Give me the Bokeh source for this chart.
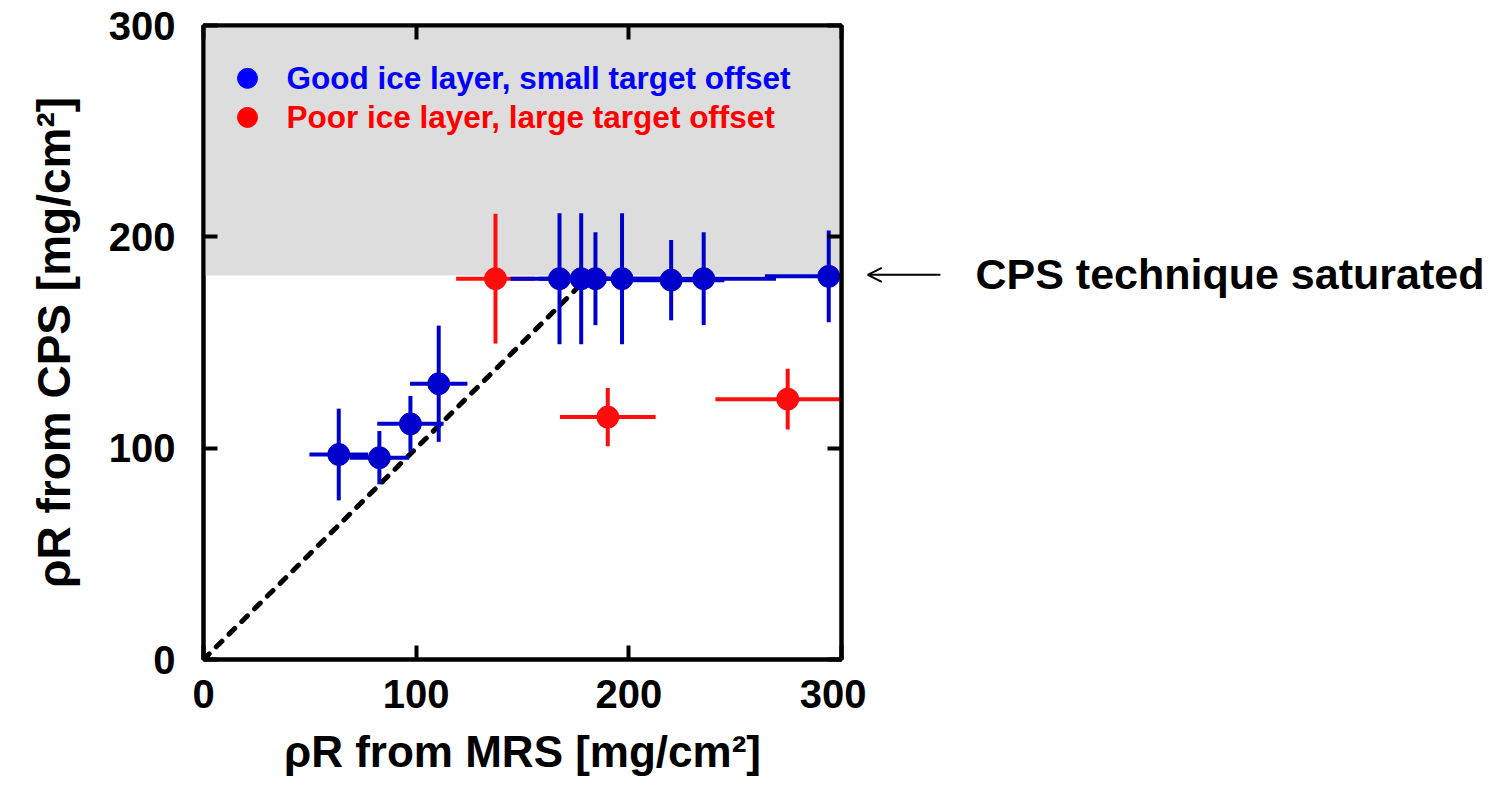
from bokeh.plotting import figure
from bokeh.layouts import row
from bokeh.models import Range1d, LinearAxis, Label, Arrow, OpenHead, FixedTicker
from bokeh.embed import file_html
from bokeh.resources import INLINE

# ---- data ----
blue_x = [63.6, 82.7, 97.3, 110.6, 167.4, 177.6, 184.3, 196.8, 219.9, 235.2, 294.0]
blue_y = [97.0, 95.5, 111.5, 130.5, 180.2, 180.2, 180.2, 180.2, 179.5, 180.2, 181.3]
blue_xerr = [13.8, 14.0, 15.6, 13.5, 23.0, 20.0, 18.0, 22.0, 25.0, 34.0, 30.0]
blue_yerr = [21.7, 12.6, 13.2, 27.5, 31.0, 31.0, 22.0, 31.0, 19.0, 22.0, 21.7]

red_x = [137.3, 190.1, 274.7]
red_y = [180.2, 114.7, 123.2]
red_xerr = [18.5, 22.5, 34.0]
red_yerr = [30.7, 13.8, 14.4]

saturation_level = 181.7
identity_line = [0, 176]
ticks = [0, 100, 200, 300]

legend_labels = ["Good ice layer, small target offset", "Poor ice layer, large target offset"]
annotation_text = "CPS technique saturated"

FONT = "Liberation Sans"
BLUE = "#0000cc"
RED = "#ff0c0c"

MAIN_W = 866
p = figure(width=MAIN_W, height=798, output_backend="svg", toolbar_location=None,
           x_range=Range1d(0, 300), y_range=Range1d(0, 300),
           min_border_left=203, min_border_right=MAIN_W - 841, min_border_top=25, min_border_bottom=139)
p.background_fill_color = "white"
p.border_fill_color = "white"
p.grid.visible = False
p.outline_line_color = "black"
p.outline_line_width = 4

# saturated region
p.quad(left=[0], right=[300], bottom=[saturation_level], top=[300],
       fill_color="#dcdddc", line_color=None)

# identity line
p.line(identity_line, identity_line, line_color="black", line_width=5,
       line_dash="8 10", line_cap="round")

def errbars(xs, ys, xe, ye, color):
    p.segment(x0=[x - e for x, e in zip(xs, xe)], x1=[x + e for x, e in zip(xs, xe)],
              y0=ys, y1=ys, line_color=color, line_width=4)
    p.segment(x0=xs, x1=xs, y0=[y - e for y, e in zip(ys, ye)],
              y1=[y + e for y, e in zip(ys, ye)], line_color=color, line_width=4)
    p.scatter(xs, ys, size=22, fill_color=color, line_color=color)

errbars(red_x, red_y, red_xerr, red_yerr, RED)
errbars(blue_x, blue_y, blue_xerr, blue_yerr, BLUE)

# legend (manual)
legend_colors = ["#0000ff", "#ff0000"]
legend_y = [275.0, 256.5]
p.scatter([20.7, 20.7], legend_y, size=20, fill_color=legend_colors, line_color=legend_colors)
for txt, col, yy in zip(legend_labels, legend_colors, legend_y):
    p.add_layout(Label(x=39, y=yy, text=txt, text_color=col, text_font=FONT,
                       text_font_style="bold", text_font_size="31.5px",
                       text_baseline="middle", text_align="left"))

# axes
def style_axis(ax, show_labels=True):
    ax.ticker = FixedTicker(ticks=ticks)
    ax.minor_tick_line_color = None
    ax.major_tick_in = 14
    ax.major_tick_out = 0
    ax.major_tick_line_width = 4
    ax.major_tick_line_color = "black"
    ax.axis_line_width = 4
    ax.axis_line_color = "black"
    ax.major_label_text_font = FONT
    ax.major_label_text_font_style = "bold"
    ax.major_label_text_font_size = "40px"
    ax.major_label_text_color = "black"
    ax.axis_label_text_font = FONT
    ax.axis_label_text_font_style = "bold"
    ax.axis_label_text_font_size = "44px"
    ax.axis_label_text_color = "black"
    if not show_labels:
        ax.major_label_text_font_size = "0px"
        ax.major_label_text_alpha = 0
        ax.major_label_standoff = 0

style_axis(p.xaxis[0])
style_axis(p.yaxis[0])
p.xaxis[0].axis_label = "ρR from MRS [mg/cm²]"
p.yaxis[0].axis_label = "ρR from CPS [mg/cm²]"
p.yaxis[0].axis_label_text_font_size = "46px"
p.xaxis[0].major_label_standoff = 20
p.yaxis[0].major_label_standoff = 28
p.xaxis[0].axis_label_standoff = 16
p.yaxis[0].axis_label_standoff = 26

top_ax = LinearAxis()
right_ax = LinearAxis()
style_axis(top_ax, False)
style_axis(right_ax, False)
p.add_layout(top_ax, "above")
p.add_layout(right_ax, "right")

# side panel for the saturation annotation (same vertical scale, continuing x scale)
px_per_unit = (841 - 203) / 300.0
x_lo = (MAIN_W - 203) / px_per_unit
x_hi = (1490 - 203) / px_per_unit
q = figure(width=1490 - MAIN_W, height=798, output_backend="svg", toolbar_location=None,
           x_range=Range1d(x_lo, x_hi), y_range=p.y_range,
           x_axis_type=None, y_axis_type=None,
           min_border_left=0, min_border_right=0, min_border_top=25, min_border_bottom=139)
q.grid.visible = False
q.outline_line_color = None
q.background_fill_color = "white"
q.border_fill_color = "white"
q.add_layout(Label(x=363, y=182.5, text=annotation_text, text_color="black", text_font=FONT,
                   text_font_style="bold", text_font_size="43px",
                   text_baseline="middle", text_align="left"))
q.add_layout(Arrow(x_start=346.5, y_start=182, x_end=x_lo + 0.6, y_end=182,
                   line_color="black", line_width=2,
                   end=OpenHead(size=14, line_width=2, line_color="black")))

layout = row(p, q)
open("out.html", "w").write(file_html(layout, INLINE))
